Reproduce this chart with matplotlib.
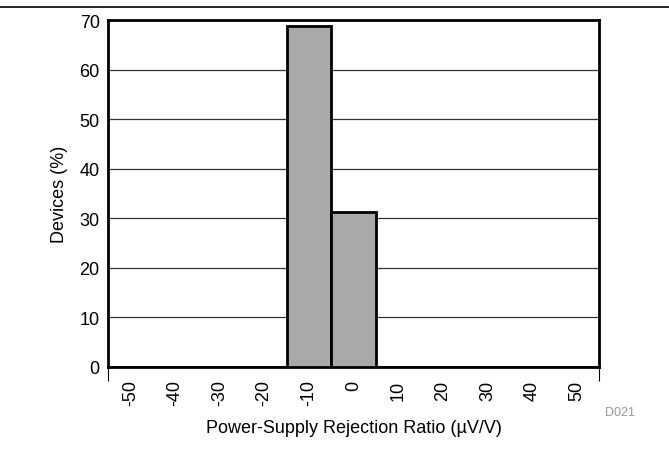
import matplotlib
matplotlib.use("Agg")
import matplotlib.pyplot as plt
import numpy as np

plt.rcParams['font.family'] = ['Liberation Sans', 'DejaVu Sans']

categories = ["-50", "-40", "-30", "-20", "-10", "0", "10", "20", "30", "40", "50"]
values = [0, 0, 0, 0, 68.75, 31.25, 0, 0, 0, 0, 0]
yticks = [0, 10, 20, 30, 40, 50, 60, 70]

fig = plt.figure(figsize=(6.69, 4.60), dpi=100)
ax = fig.add_axes([108/669, 1-368/460, (599-108)/669, (368-21)/460])

x = np.arange(len(categories))
ax.set_axisbelow(True)
ax.yaxis.grid(True, color='#333333', linewidth=0.9)
ax.bar(x, values, width=1.0, color='#a9a9a9', edgecolor='black', linewidth=2.0, zorder=3)

ax.set_xlim(-0.5, len(categories) - 0.5)
ax.set_ylim(0, 70)
ax.set_yticks(yticks)
ax.set_yticklabels([str(v) for v in yticks], fontsize=13)
ax.set_xticks(x)
ax.set_xticklabels(categories, rotation=90, fontsize=13)
ax.tick_params(axis='x', length=0, pad=9)
ax.tick_params(axis='y', length=0, pad=6)
ax.set_xticks([-0.5, len(categories) - 0.5], minor=True)
ax.tick_params(axis='x', which='minor', length=10, width=0.8, direction='out')

for s in ax.spines.values():
    s.set_linewidth(2.0)

ax.set_ylabel("Devices (%)", fontsize=13, labelpad=8)
ax.set_xlabel("Power-Supply Rejection Ratio (\u00b5V/V)", fontsize=13, labelpad=10)

fig.add_artist(plt.Line2D([0, 1], [1-8/460, 1-8/460], color='black', linewidth=1.2, transform=fig.transFigure))
fig.text(605/669, 1-413/460, "D021", fontsize=9, color='#999999', ha='left', va='center')

fig.savefig("out.png", dpi=100)
